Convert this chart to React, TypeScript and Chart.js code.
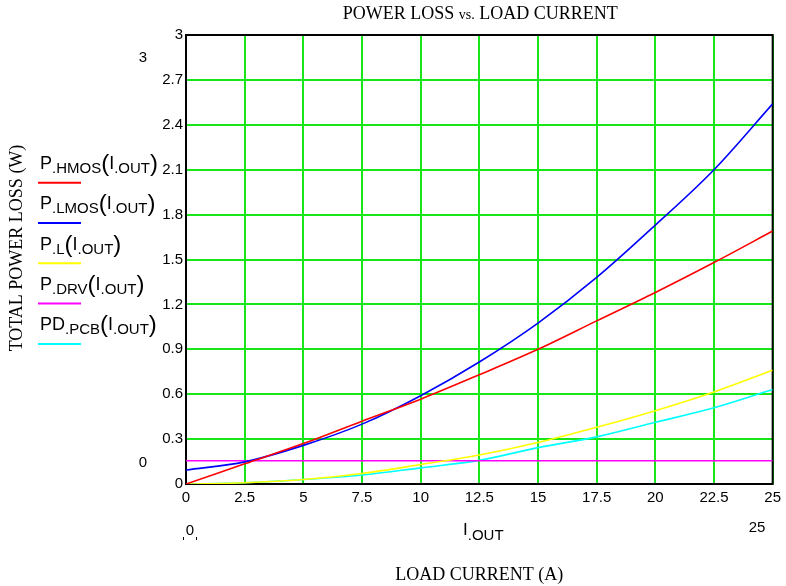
import React, { useEffect, useRef } from "react";
import { Chart, registerables } from "chart.js";

Chart.register(...registerables);

// ---- data ----
const I_OUT = [0, 2.5, 5, 7.5, 10, 12.5, 15, 17.5, 20, 22.5, 25];
const P_HMOS = [0, 0.135, 0.27, 0.42, 0.567, 0.73, 0.9, 1.09, 1.28, 1.48, 1.69];
const P_LMOS = [0.093, 0.148, 0.258, 0.4, 0.59, 0.815, 1.075, 1.38, 1.73, 2.1, 2.54];
const P_L = [0, 0.008, 0.03, 0.07, 0.13, 0.194, 0.277, 0.379, 0.49, 0.615, 0.76];
const P_DRV = [0.155, 0.155, 0.155, 0.155, 0.155, 0.155, 0.155, 0.155, 0.155, 0.155, 0.155];
const PD_PCB = [0, 0.008, 0.03, 0.06, 0.108, 0.158, 0.243, 0.315, 0.412, 0.509, 0.631];

const X_TICKS = [0, 2.5, 5, 7.5, 10, 12.5, 15, 17.5, 20, 22.5, 25];
const Y_TICKS = ["0", "0.3", "0.6", "0.9", "1.2", "1.5", "1.8", "2.1", "2.4", "2.7", "3"];

const TITLE = ["POWER LOSS ", "vs.", " LOAD CURRENT"];
const Y_TITLE = "TOTAL POWER LOSS (W)";
const X_TITLE = "LOAD CURRENT (A)";

const SERIES = [
  { main: "P", sub: ".HMOS", data: P_HMOS, color: "#ff0000" },
  { main: "P", sub: ".LMOS", data: P_LMOS, color: "#0000ff" },
  { main: "P", sub: ".L", data: P_L, color: "#ffff00" },
  { main: "P", sub: ".DRV", data: P_DRV, color: "#ff00ff" },
  { main: "PD", sub: ".PCB", data: PD_PCB, color: "#00ffff" },
];

const SANS = "'Liberation Sans', Arial, sans-serif";
const SERIF = "'Liberation Serif', 'Times New Roman', serif";

type Seg = { t: string; size: number; dy: number; family?: string };

function drawRich(ctx: CanvasRenderingContext2D, x: number, y: number, segs: Seg[], align: "left" | "center" = "left") {
  let total = 0;
  const widths: number[] = [];
  for (const s of segs) {
    ctx.font = `${s.size}px ${s.family || SANS}`;
    const w = ctx.measureText(s.t).width;
    widths.push(w);
    total += w;
  }
  let cx = align === "center" ? x - total / 2 : x;
  ctx.textAlign = "left";
  ctx.textBaseline = "alphabetic";
  segs.forEach((s, i) => {
    ctx.font = `${s.size}px ${s.family || SANS}`;
    ctx.fillText(s.t, cx, y + s.dy);
    cx += widths[i];
  });
}

const extrasPlugin = {
  id: "extras",
  beforeDatasetsDraw(chart: any) {
    const { ctx, chartArea: a } = chart;
    ctx.save();
    ctx.strokeStyle = "#000";
    ctx.lineWidth = 2;
    ctx.strokeRect(a.left, a.top, a.right - a.left, a.bottom - a.top);
    ctx.restore();
  },
  afterDraw(chart: any) {
    const { ctx, chartArea: a } = chart;
    const cx = (a.left + a.right) / 2;
    ctx.save();
    ctx.fillStyle = "#000";

    // title
    drawRich(
      ctx,
      cx + 1,
      19,
      [
        { t: TITLE[0], size: 18, dy: 0, family: SERIF },
        { t: TITLE[1], size: 14, dy: 0, family: SERIF },
        { t: TITLE[2], size: 18, dy: 0, family: SERIF },
      ],
      "center"
    );

    // y title
    ctx.save();
    ctx.translate(17, 248);
    ctx.rotate(-Math.PI / 2);
    ctx.font = `18px ${SERIF}`;
    ctx.textAlign = "center";
    ctx.textBaseline = "middle";
    ctx.fillText(Y_TITLE, 0, 0);
    ctx.restore();

    // x title
    ctx.font = `18px ${SERIF}`;
    ctx.textAlign = "center";
    ctx.textBaseline = "middle";
    ctx.fillText(X_TITLE, cx, 575);

    // legend
    SERIES.forEach((s, i) => {
      const base = 169 + i * 40.3;
      drawRich(ctx, 40, base, [
        { t: s.main, size: 18, dy: 0 },
        { t: s.sub, size: 15, dy: 4 },
        { t: "(", size: 24, dy: 2 },
        { t: "I", size: 18, dy: 0 },
        { t: ".OUT", size: 15, dy: 4 },
        { t: ")", size: 24, dy: 2 },
      ]);
      ctx.strokeStyle = s.color;
      ctx.lineWidth = 2;
      ctx.beginPath();
      const ly = 182.7 + i * 40.3;
      ctx.moveTo(38, ly);
      ctx.lineTo(81, ly);
      ctx.stroke();
    });

    // Mathcad range markers
    ctx.fillStyle = "#000";
    ctx.font = `15px ${SANS}`;
    ctx.textAlign = "center";
    ctx.textBaseline = "middle";
    ctx.fillText("3", 143, 58);
    ctx.fillText("0", 143, 463);
    ctx.fillText("25", 757, 528);
    ctx.fillText("0", 190, 531);
    ctx.strokeStyle = "#000";
    ctx.lineWidth = 1;
    ctx.beginPath();
    ctx.moveTo(183.5, 537);
    ctx.lineTo(183.5, 540);
    ctx.moveTo(196.5, 537);
    ctx.lineTo(196.5, 540);
    ctx.stroke();

    drawRich(ctx, 463, 535, [
      { t: "I", size: 17, dy: 0 },
      { t: ".OUT", size: 15, dy: 5 },
    ]);
    ctx.restore();
  },
};

export default function App() {
  const ref = useRef<HTMLCanvasElement | null>(null);
  useEffect(() => {
    if (!ref.current) return;
    const chart = new Chart(ref.current, {
      type: "line",
      data: {
        datasets: SERIES.map((s) => ({
          label: s.main + s.sub,
          data: I_OUT.map((x, i) => ({ x, y: s.data[i] })),
          borderColor: s.color,
          backgroundColor: s.color,
          borderWidth: 1.6,
          pointRadius: 0,
          cubicInterpolationMode: "monotone" as const,
          fill: false,
        })),
      },
      options: {
        animation: false,
        responsive: true,
        maintainAspectRatio: false,
        layout: { padding: { left: 0, top: 35, right: 12, bottom: 0 } },
        plugins: { legend: { display: false }, tooltip: { enabled: false }, title: { display: false } },
        scales: {
          x: {
            type: "linear",
            min: 0,
            max: 25,
            afterFit: (s: any) => {
              s.height = 102;
            },
            afterBuildTicks: (s: any) => {
              s.ticks = X_TICKS.map((v) => ({ value: v }));
            },
            ticks: {
              color: "#000",
              font: { family: SANS, size: 15 },
              padding: 5,
              maxRotation: 0,
              autoSkip: false,
              callback: (v: any) => String(v),
            },
            grid: { color: "#19e619", lineWidth: 2, drawTicks: false },
            border: { display: false },
          },
          y: {
            type: "linear",
            min: 0,
            max: 3,
            afterFit: (s: any) => {
              s.width = 186;
            },
            afterBuildTicks: (s: any) => {
              s.ticks = Y_TICKS.map((t) => ({ value: parseFloat(t) }));
            },
            ticks: {
              color: "#000",
              font: { family: SANS, size: 15 },
              padding: 3,
              autoSkip: false,
              callback: (v: any) => {
                const f = Y_TICKS.find((t) => Math.abs(parseFloat(t) - Number(v)) < 1e-6);
                return f ?? String(v);
              },
            },
            grid: { color: "#19e619", lineWidth: 2, drawTicks: false },
            border: { display: false },
          },
        },
      },
      plugins: [extrasPlugin],
    });
    return () => chart.destroy();
  }, []);

  return (
    <div style={{ position: "absolute", left: 0, top: 0, width: 786, height: 586, background: "#fff" }}>
      <canvas ref={ref} />
    </div>
  );
}
